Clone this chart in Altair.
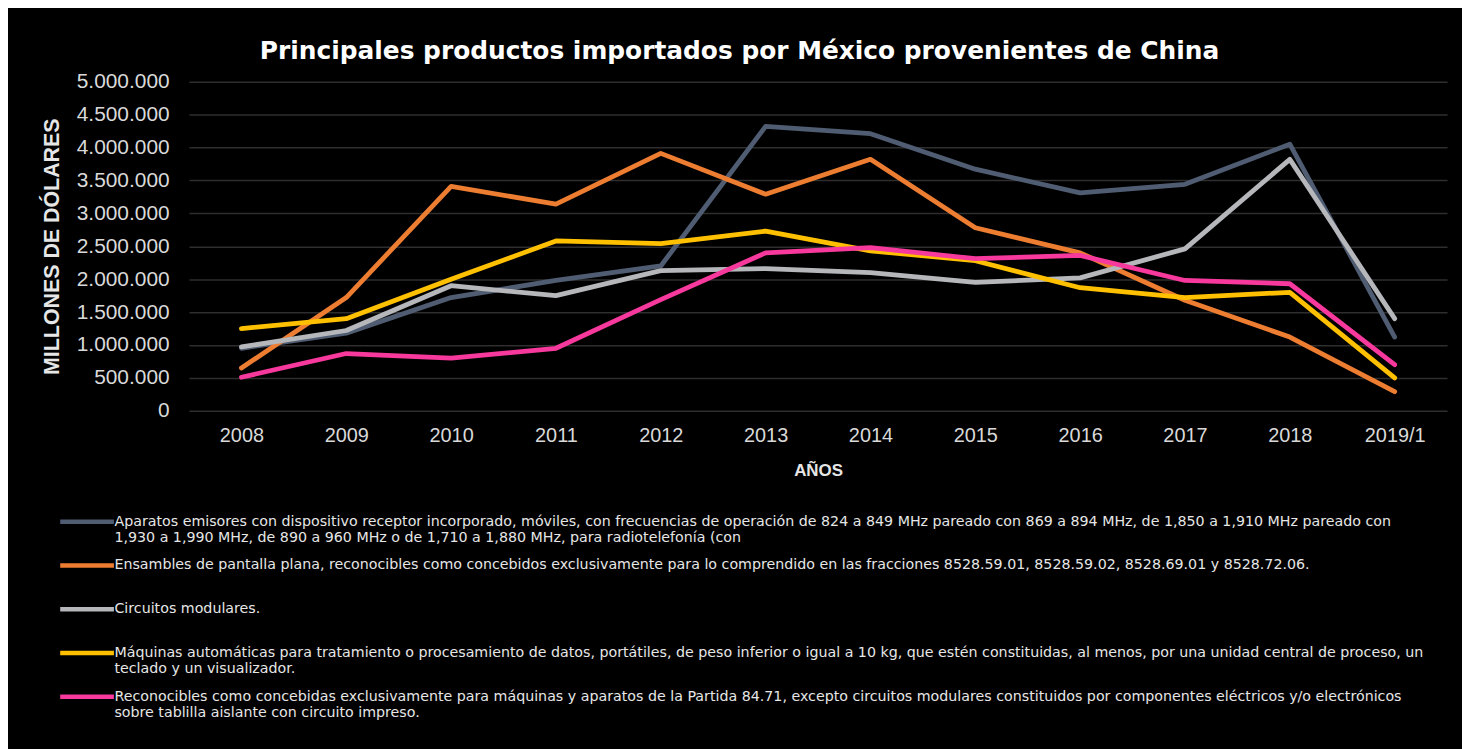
import altair as alt
import pandas as pd

YEARS = ["2008", "2009", "2010", "2011", "2012", "2013", "2014", "2015", "2016", "2017", "2018", "2019/1"]

SERIES = [
    "Aparatos emisores con dispositivo receptor incorporado, móviles, con frecuencias de operación de 824 a 849 MHz pareado con 869 a 894 MHz, de 1,850 a 1,910 MHz pareado con\n1,930 a 1,990 MHz, de 890 a 960 MHz o de 1,710 a 1,880 MHz, para radiotelefonía (con",
    "Ensambles de pantalla plana, reconocibles como concebidos exclusivamente para lo comprendido en las fracciones 8528.59.01, 8528.59.02, 8528.69.01 y 8528.72.06.",
    "Circuitos modulares.",
    "Máquinas automáticas para tratamiento o procesamiento de datos, portátiles, de peso inferior o igual a 10 kg, que estén constituidas, al menos, por una unidad central de proceso, un\nteclado y un visualizador.",
    "Reconocibles como concebidas exclusivamente para máquinas y aparatos de la Partida 84.71, excepto circuitos modulares constituidos por componentes eléctricos y/o electrónicos\nsobre tablilla aislante con circuito impreso.",
]

COLORS = ["#4f5c72", "#ed7d31", "#b5b7bb", "#ffc000", "#f7389c"]

APARATOS = [950000, 1180000, 1720000, 1980000, 2200000, 4320000, 4210000, 3670000, 3310000, 3440000, 4050000, 1120000]
ENSAMBLES = [650000, 1720000, 3410000, 3140000, 3910000, 3290000, 3820000, 2780000, 2400000, 1680000, 1120000, 290000]
CIRCUITOS = [970000, 1220000, 1900000, 1750000, 2130000, 2160000, 2100000, 1950000, 2020000, 2460000, 3820000, 1400000]
MAQUINAS = [1250000, 1400000, 2000000, 2580000, 2540000, 2730000, 2430000, 2280000, 1870000, 1720000, 1800000, 500000]
RECONOCIBLES = [510000, 870000, 800000, 950000, 1690000, 2400000, 2480000, 2310000, 2360000, 1980000, 1930000, 700000]

Y_TICKS = [0, 500000, 1000000, 1500000, 2000000, 2500000, 3000000, 3500000, 4000000, 4500000, 5000000]

TITLE = "Principales productos importados por México provenientes de China"
Y_TITLE = "MILLONES DE DÓLARES"
X_TITLE = "AÑOS"

rows = []
for name, vals in zip(SERIES, [APARATOS, ENSAMBLES, CIRCUITOS, MAQUINAS, RECONOCIBLES]):
    for yr, v in zip(YEARS, vals):
        rows.append({"Serie": name, "Año": yr, "Valor": v})
df = pd.DataFrame(rows)

legend_label_expr = (
    "split(datum.label + (indexof(datum.label, '\\n') < 0 ? '\\n' : ''), '\\n')"
)
y_label_expr = "replace(format(datum.value, ',d'), regexp(',', 'g'), '.')"

chart = (
    alt.Chart(df)
    .mark_line(strokeWidth=4.8, strokeJoin="round", strokeCap="round")
    .encode(
        x=alt.X(
            "Año:O",
            sort=YEARS,
            title=X_TITLE,
            axis=alt.Axis(
                labelAngle=0,
                labelFont="Liberation Sans",
                labelFontSize=20,
                labelColor="#d9d9d9",
                labelPadding=15,
                ticks=False,
                domain=False,
                titleFont="Liberation Sans",
                titleFontSize=17,
                titleFontWeight="bold",
                titleColor="#e6e6e6",
                titlePadding=17,
            ),
        ),
        y=alt.Y(
            "Valor:Q",
            title=Y_TITLE,
            scale=alt.Scale(domain=[0, 5000000], nice=False),
            axis=alt.Axis(
                values=Y_TICKS,
                labelExpr=y_label_expr,
                labelFont="Liberation Sans",
                labelFontSize=21,
                labelColor="#d9d9d9",
                labelPadding=20,
                ticks=False,
                domain=False,
                gridColor="#2e2e2e",
                gridWidth=1.5,
                titleFont="Liberation Sans",
                titleFontSize=21.5,
                titleFontWeight="bold",
                titleColor="#e6e6e6",
                titlePadding=13,
            ),
        ),
        color=alt.Color(
            "Serie:N",
            sort=SERIES,
            scale=alt.Scale(domain=SERIES, range=COLORS),
            legend=alt.Legend(
                title=None,
                orient="none",
                legendX=-122.5,
                legendY=422.5,
                direction="vertical",
                columns=1,
                symbolType="M-1.543,0L1.543,0",
                symbolSize=1225,
                symbolStrokeWidth=4.5,
                labelExpr=legend_label_expr,
                labelFont="DejaVu Sans",
                labelFontSize=14.3,
                labelColor="#e6e6e6",
                labelLimit=1400,
                labelOffset=7.5,
                labelBaseline="middle",
                rowPadding=0,
                padding=0,
            ),
        ),
    )
    .properties(
        width=1265,
        height=331,
        title=alt.TitleParams(
            TITLE,
            font="DejaVu Sans",
            fontSize=25,
            fontWeight="bold",
            color="#ffffff",
            anchor="middle",
            dx=-79,
            offset=7,
        ),
        background="#000000",
        padding={"left": 182, "top": 72, "right": 15, "bottom": 338},
        autosize=alt.AutoSizeParams(type="none"),
    )
    .configure_view(strokeWidth=0)
)

chart.save("out.html", embed_options={"renderer": "svg", "actions": False})
